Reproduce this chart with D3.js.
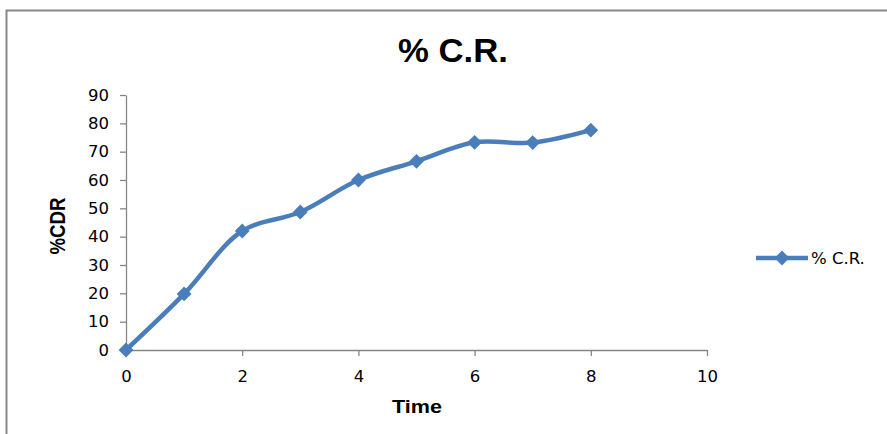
<!doctype html>
<html>
<head>
<script src="https://d3js.org/d3.v7.min.js"></script>
<style>
  body { margin: 0; background: #fff; }
  svg text { fill: #000; }
</style>
</head>
<body>
<div id="chart"></div>
<script>
// data
var times = [0, 1, 2, 3, 4, 5, 6, 7, 8];
var cr = [0, 19.8, 42, 48.7, 60, 66.6, 73.3, 73.2, 77.6];
var xTicks = [0, 2, 4, 6, 8, 10];
var yTicks = [0, 10, 20, 30, 40, 50, 60, 70, 80, 90];
var seriesName = "% C.R.";

var W = 887, H = 434;
var svg = d3.select("#chart").append("svg")
    .attr("width", W).attr("height", H);

// chart frame
svg.append("rect")
    .attr("x", 6.5).attr("y", 10.5)
    .attr("width", W).attr("height", H + 20)
    .attr("fill", "none").attr("stroke", "#888").attr("stroke-width", 2);

var x = d3.scaleLinear().domain([0, 10]).range([126, 707]);
var y = d3.scaleLinear().domain([0, 90]).range([350, 95]);

var tickFont = "'DejaVu Sans', Verdana, sans-serif";
var boldFont = "'Liberation Sans', Arial, sans-serif";

// y axis
var gy = svg.append("g")
    .attr("transform", "translate(" + x(0) + ",0)")
    .call(d3.axisLeft(y).tickValues(yTicks).tickSize(6).tickPadding(11).tickSizeOuter(0));
// x axis
var gx = svg.append("g")
    .attr("transform", "translate(0," + y(0) + ")")
    .call(d3.axisBottom(x).tickValues(xTicks).tickSize(6).tickPadding(14).tickSizeOuter(0));

[gx, gy].forEach(function(g) {
    g.selectAll("path, line").attr("stroke", "#868686").attr("stroke-width", 1.3);
    g.selectAll("text").attr("font-family", tickFont).attr("font-size", 16.5).attr("fill", "#000");
});

// title and axis labels
svg.append("text")
    .attr("x", 453).attr("y", 62)
    .attr("text-anchor", "middle")
    .attr("font-family", boldFont)
    .attr("font-weight", "bold").attr("font-size", 33)
    .attr("textLength", 110).attr("lengthAdjust", "spacingAndGlyphs")
    .text(seriesName);

svg.append("text")
    .attr("transform", "translate(65,226) rotate(-90)")
    .attr("text-anchor", "middle")
    .attr("font-family", boldFont)
    .attr("font-weight", "bold").attr("font-size", 22)
    .attr("textLength", 57).attr("lengthAdjust", "spacingAndGlyphs")
    .text("%CDR");

svg.append("text")
    .attr("x", 417).attr("y", 413)
    .attr("text-anchor", "middle")
    .attr("font-family", boldFont)
    .attr("font-weight", "bold").attr("font-size", 18)
    .attr("textLength", 50).attr("lengthAdjust", "spacingAndGlyphs")
    .text("Time");

var blue = "#4a7ebb";
var data = times.map(function(t, i) { return {t: t, v: cr[i]}; });

svg.append("path")
    .datum(data)
    .attr("fill", "none")
    .attr("stroke", blue)
    .attr("stroke-width", 4.5)
    .attr("stroke-linejoin", "round")
    .attr("d", d3.line()
        .x(function(d) { return x(d.t); })
        .y(function(d) { return y(d.v); })
        .curve(d3.curveCatmullRom.alpha(0.5)));

var diamond = d3.symbol().type(d3.symbolDiamond2).size(140);
svg.selectAll(".pt")
    .data(data)
    .enter().append("path")
    .attr("class", "pt")
    .attr("transform", function(d) { return "translate(" + x(d.t) + "," + y(d.v) + ")"; })
    .attr("d", diamond)
    .attr("fill", blue);

// legend
var lg = svg.append("g").attr("transform", "translate(756,258)");
lg.append("line").attr("x1", 0).attr("x2", 52).attr("y1", 0).attr("y2", 0)
    .attr("stroke", blue).attr("stroke-width", 4.5);
lg.append("path").attr("transform", "translate(26,0)").attr("d", diamond).attr("fill", blue);
lg.append("text").attr("x", 55).attr("y", 6)
    .attr("font-family", tickFont).attr("font-size", 16.5)
    .text(seriesName);
</script>
</body>
</html>
